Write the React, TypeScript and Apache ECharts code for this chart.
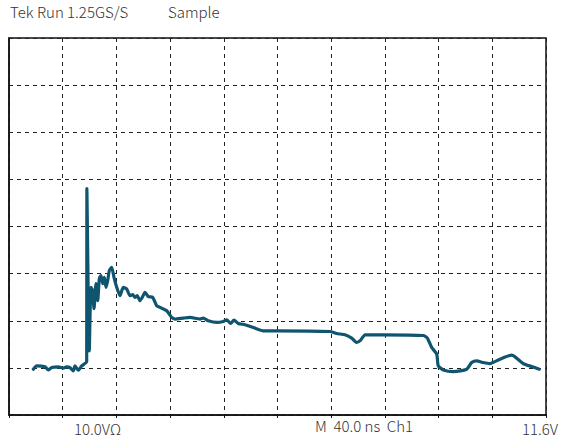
import React, { useEffect, useRef } from "react";
import * as echarts from "echarts";

// x in horizontal divisions (40 ns/div), y in vertical divisions
const traceX = [
  0.453, 0.516, 0.67, 0.732, 0.795, 0.918, 1.011, 1.074, 1.136, 1.197, 1.229, 1.29, 1.354, 1.447,
  1.45, 1.495, 1.527, 1.559, 1.583, 1.62, 1.652, 1.682, 1.713, 1.745, 1.775, 1.806, 1.838, 1.868,
  1.912, 1.955, 2.006, 2.067, 2.128, 2.192, 2.253, 2.304, 2.346, 2.389, 2.439, 2.482, 2.533, 2.594,
  2.676, 2.75, 2.812, 2.937, 3.03, 3.091, 3.246, 3.371, 3.557, 3.618, 3.711, 3.868, 3.991, 4.054,
  4.128, 4.19, 4.27, 4.395, 4.549, 4.736, 4.985, 5.978, 6.102, 6.257, 6.382, 6.475, 6.549, 6.629,
  6.661, 6.97, 7.715, 7.79, 7.872, 7.965, 7.994, 8.088, 8.274, 8.523, 8.616, 8.709, 8.832, 8.957,
  9.143, 9.361, 9.423, 9.577, 9.734, 9.875,
];
const traceY = [
  0.972, 1.043, 1.021, 0.957, 1.006, 1.021, 0.994, 1.021, 1.006, 0.936, 1.043, 0.951, 1.043, 1.134,
  4.802, 1.362, 2.709, 2.638, 2.255, 2.787, 2.426, 2.894, 2.957, 2.787, 2.921, 2.709, 2.851, 3.064,
  3.134, 2.921, 2.709, 2.532, 2.709, 2.674, 2.532, 2.553, 2.496, 2.532, 2.426, 2.496, 2.602, 2.511,
  2.496, 2.319, 2.283, 2.213, 2.07, 2.036, 2.057, 2.07, 2.036, 2.057, 2.0, 1.964, 1.985, 2.021,
  1.943, 2.015, 1.943, 1.915, 1.857, 1.787, 1.787, 1.772, 1.73, 1.702, 1.632, 1.538, 1.589, 1.702,
  1.702, 1.702, 1.687, 1.632, 1.432, 1.291, 1.043, 0.957, 0.921, 0.972, 1.113, 1.149, 1.113, 1.091,
  1.185, 1.27, 1.234, 1.091, 1.028, 0.972,
];

const headerLabels = ["Tek Run 1.25GS/S", "Sample"];
const footerLabels = ["10.0VΩ", "M  40.0 ns  Ch1", "11.6V"];

const FONT = "'Noto Sans CJK SC', 'Noto Sans', sans-serif";

export default function App() {
  const ref = useRef<HTMLDivElement>(null);
  useEffect(() => {
    if (!ref.current) return;
    const chart = echarts.init(ref.current, undefined, { renderer: "svg" });
    const data = traceX.map((x, i) => [x, traceY[i]]);
    const textStyle = { fill: "#333", fontSize: 15, fontWeight: 300, fontFamily: FONT };
    chart.setOption({
      animation: false,
      grid: {
        left: 9,
        top: 38,
        width: 537,
        height: 377,
        show: true,
        borderColor: "#111",
        borderWidth: 1.5,
        backgroundColor: "transparent",
      },
      xAxis: {
        type: "value",
        min: 0,
        max: 10,
        interval: 1,
        axisLine: { show: true, onZero: false, lineStyle: { color: "#111", width: 1.5 } },
        axisTick: { show: true, length: 3, lineStyle: { color: "#111" } },
        axisLabel: { show: false },
        splitLine: { show: true, lineStyle: { color: "#222", type: [4, 4], width: 1 } },
      },
      yAxis: {
        type: "value",
        min: 0,
        max: 8,
        interval: 1,
        axisLine: { show: true, lineStyle: { color: "#111", width: 1.5 } },
        axisTick: { show: false },
        axisLabel: { show: false },
        splitLine: { show: true, lineStyle: { color: "#222", type: [4, 4], width: 1 } },
      },
      series: [
        {
          type: "line",
          data,
          showSymbol: false,
          symbol: "none",
          smooth: 0.2,
          lineStyle: { color: "#0f5570", width: 3.2, join: "round", cap: "round" },
        },
      ],
      graphic: [
        { type: "text", left: 10, top: 4, style: { ...textStyle, text: headerLabels[0] } },
        { type: "text", left: 168, top: 4, style: { ...textStyle, text: headerLabels[1] } },
        { type: "text", left: 74, top: 421, style: { ...textStyle, text: footerLabels[0] } },
        { type: "text", left: 315, top: 418, style: { ...textStyle, text: footerLabels[1] } },
        { type: "text", left: 522, top: 421, style: { ...textStyle, text: footerLabels[2] } },
      ],
    });
    return () => chart.dispose();
  }, []);
  return (
    <div
      ref={ref}
      style={{ position: "absolute", left: 0, top: 0, width: 562, height: 441, background: "#fff" }}
    />
  );
}
